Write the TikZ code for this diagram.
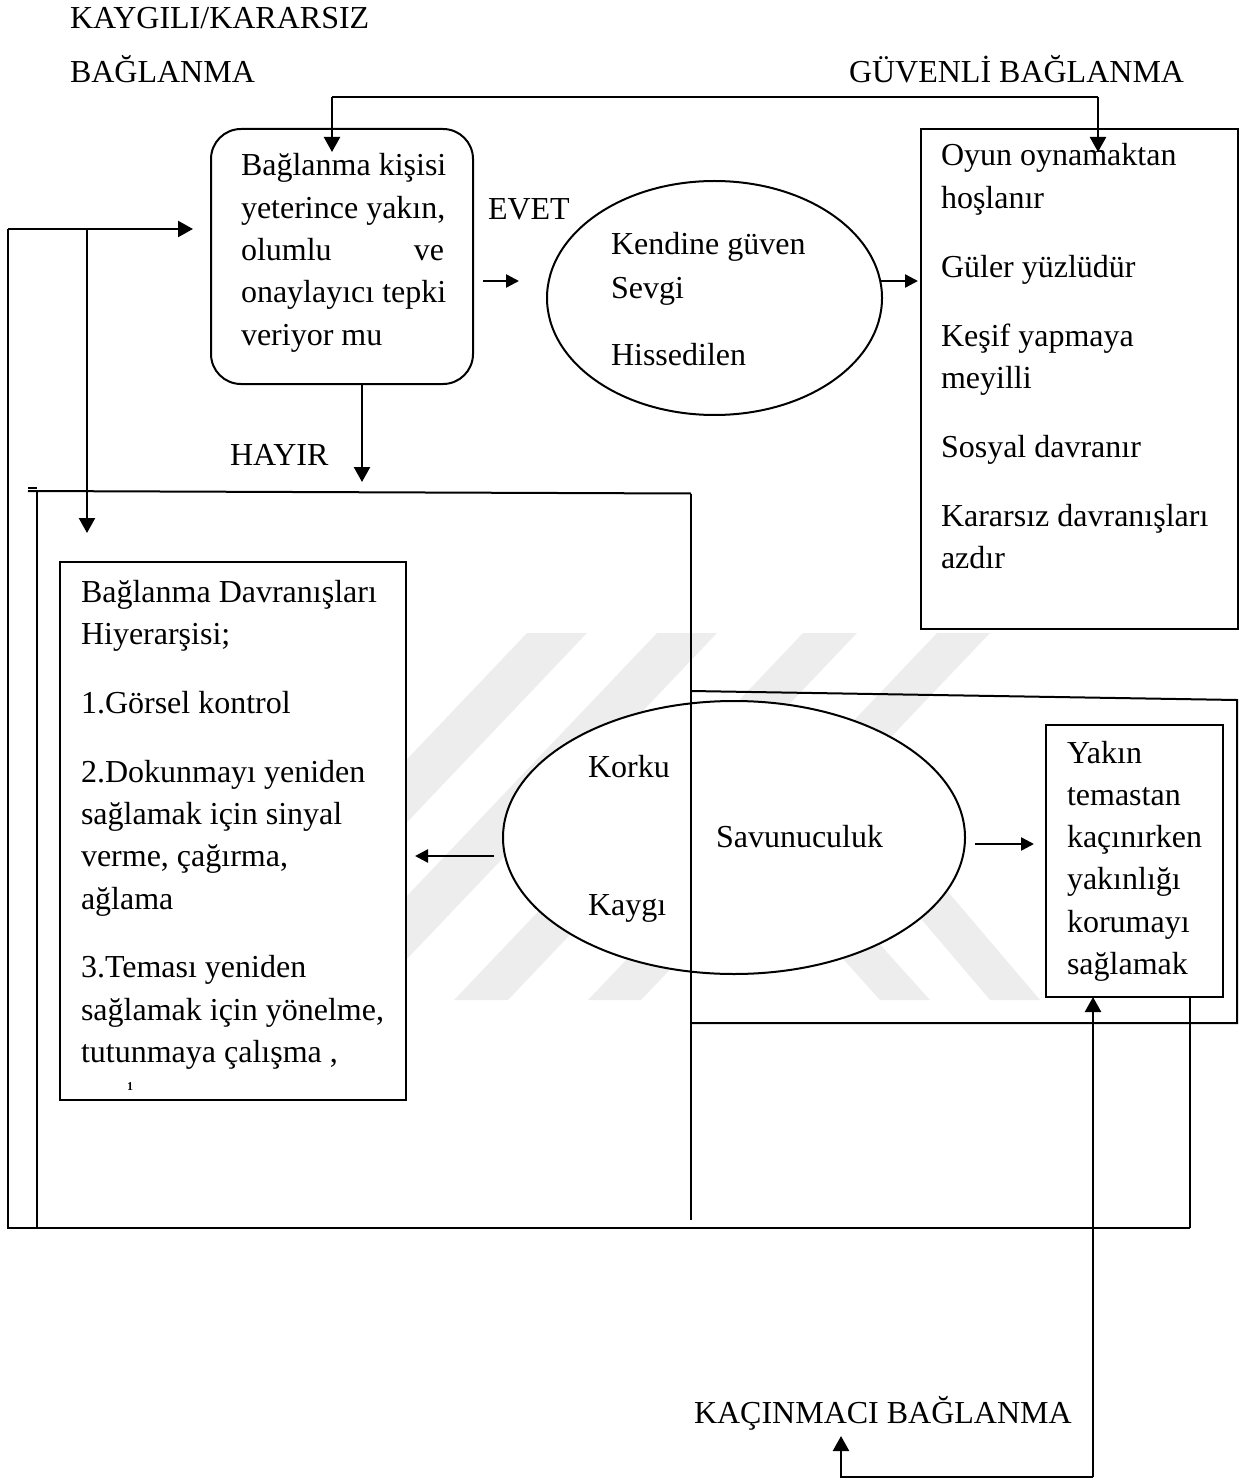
\documentclass[tikz,border=0pt]{standalone}
\usepackage{fontspec}
\setmainfont{Liberation Serif}
\usetikzlibrary{arrows.meta,shapes.geometric}
\newcommand{\txtblock}[1]{\vtop{\baselineskip=21.15pt\lineskiplimit=-100pt\lineskip=0pt #1}}
\newcommand{\pgap}{\vskip 13.3pt}
\begin{document}
\begin{tikzpicture}[x=0.5pt,y=-0.5pt, line width=1pt,
  arr/.style={-{Triangle[length=7.5pt,width=8pt]},line width=1.2pt},
  harr/.style={-{Triangle[length=6.5pt,width=6.5pt]},line width=1.2pt},
  box/.style={draw,fill=white,inner sep=0pt,anchor=north west,line width=1pt},
  oval/.style={draw,ellipse,fill=white,inner sep=0pt,line width=1pt},
  txt/.style={inner sep=0pt,anchor=base west,font=\fontsize{16}{21.15}\selectfont},
  wm/.style={fill=black!7,draw=none}]
\useasboundingbox (0,0) rectangle (1247,1481);
% watermark
\fill[wm] (527,633) -- (587,633) -- (238,1000) -- (178,1000) -- cycle;
\fill[wm] (657,633) -- (717,633) -- (368,1000) -- (308,1000) -- cycle;
\fill[wm] (803,633) -- (857,633) -- (508,1000) -- (454,1000) -- cycle;
\fill[wm] (937,633) -- (990,633) -- (641,1000) -- (588,1000) -- cycle;
\fill[wm] (700,800) -- (750,800) -- (930,1000) -- (880,1000) -- cycle;
\fill[wm] (820,800) -- (870,800) -- (1040,1000) -- (990,1000) -- cycle;
% frame lines
\coordinate (a0) at (7.5,229);
\coordinate (a1) at (87,229);
\coordinate (f0) at (28,491);
\coordinate (f1) at (691,493.5);
\draw (28,487.5) -- (37,487.5);
\draw (f0) -- (f1);
\draw (a0) -- (7.5,1228) -- (1190,1228);
\draw (37,491) -- (37,1228);
% boxes
\node[box,rounded corners=15pt,minimum width=131pt,minimum height=127.5pt] (q) at (210,128) {};
\node[box,minimum width=158.5pt,minimum height=250pt] (g) at (920,128) {};
\node[box,minimum width=173pt,minimum height=269pt] (h) at (59,561) {};
\node[oval,minimum width=167.5pt,minimum height=117pt] (e1) at (714.5,298) {};
\node[oval,minimum width=231pt,minimum height=136.5pt] (e2) at (734,837.5) {};
\draw (f1) -- (691,1220);
\draw (691,691) -- (1237,700) -- (1237,1023) -- (691,1023);
\node[box,minimum width=88.5pt,minimum height=136pt] (y) at (1045,724) {};
\draw (1190,996) -- (1190,1228);
% texts
\node[txt] (tkay) at (69,29) {KAYGILI/KARARSIZ};
\node[txt] (tbag) at (69,83) {BAĞLANMA};
\node[txt] (tguv) at (848,83) {GÜVENLİ BAĞLANMA};
\node[txt] (tevet) at (487,220) {EVET};
\node[txt] (thayir) at (229,465) {HAYIR};
\node[txt] (tkac) at (693,1423) {KAÇINMACI BAĞLANMA};
\node[txt] (tq) at (240,176) {\txtblock{\hbox{Bağlanma kişisi}\hbox{yeterince yakın,}\hbox to 101.5pt{olumlu\hfill ve}\hbox{onaylayıcı tepki}\hbox{veriyor mu}}};
\node[txt] (tg) at (940,166) {\txtblock{\hbox{Oyun oynamaktan}\hbox{hoşlanır}\pgap\hbox{Güler yüzlüdür}\pgap\hbox{Keşif yapmaya}\hbox{meyilli}\pgap\hbox{Sosyal davranır}\pgap\hbox{Kararsız davranışları}\hbox{azdır}}};
\node[txt] (th) at (80,602) {\txtblock{\hbox{Bağlanma Davranışları}\hbox{Hiyerarşisi;}\pgap\hbox{1.Görsel kontrol}\pgap\hbox{2.Dokunmayı yeniden}\hbox{sağlamak için sinyal}\hbox{verme, çağırma,}\hbox{ağlama}\pgap\hbox{3.Teması yeniden}\hbox{sağlamak için yönelme,}\hbox{tutunmaya çalışma ,}}};
\node[txt] (ty) at (1066,763) {\txtblock{\hbox{Yakın}\hbox{temastan}\hbox{kaçınırken}\hbox{yakınlığı}\hbox{korumayı}\hbox{sağlamak}}};
\node[txt] (k1) at (610,255) {Kendine güven};
\node[txt] (k2) at (610,299) {Sevgi};
\node[txt] (k3) at (610,365) {Hissedilen};
\node[txt] (s1) at (587,777) {Korku};
\node[txt] (s2) at (587,915) {Kaygı};
\node[txt] (s3) at (715,847) {Savunuculuk};
\node[inner sep=0pt,anchor=north,font=\fontsize{6}{6}\selectfont\bfseries] (clipped) at (130,1082) {1};
% connectors
\coordinate (c1) at (332,97);
\coordinate (c2) at (1098,97);
\draw (c1) -- (c2);
\draw[arr] (c1) -- ++(0,55);
\draw[arr] (c2) -- ++(0,55);
\draw[arr] (a0) -- (193,229);
\draw[arr] (a1) -- (87,533);
\draw[arr] (362,0 |- q.south) -- (362,482);
\draw[harr] (483,281) -- (519,281);
\draw[harr] (881,281) -- (918,281);
\draw[harr] (494,856) -- (415,856);
\draw[harr] (975,844) -- (1034,844);
\coordinate (b0) at (1093,1477);
\coordinate (b1) at (841,1477);
\draw[arr] (b0) -- (1093,997);
\draw[arr] (b0) -- (b1) -- (841,1436);
\end{tikzpicture}
\end{document}
